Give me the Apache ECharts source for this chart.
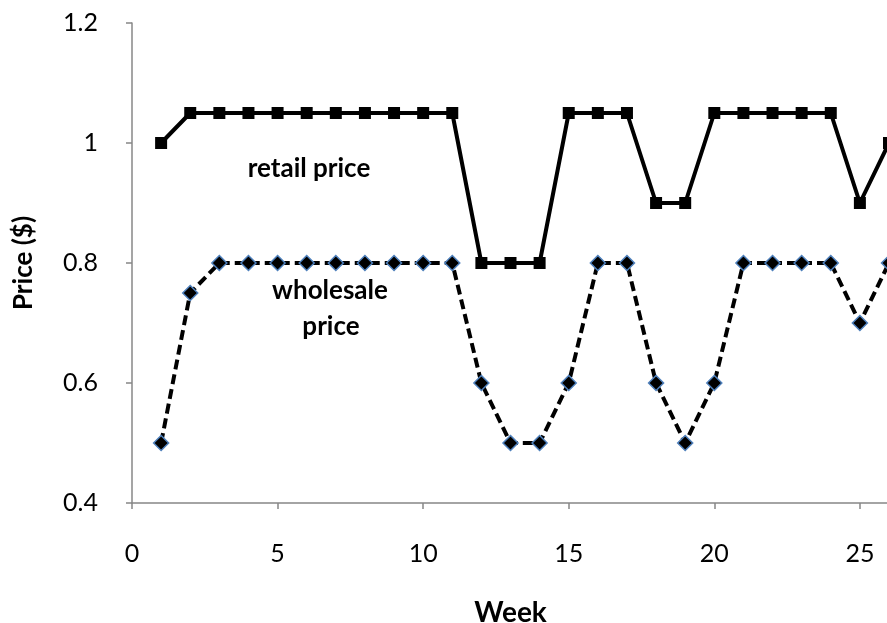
<!DOCTYPE html>
<html>
<head>
<meta charset="utf-8">
<script src="https://cdn.jsdelivr.net/npm/echarts@6/dist/echarts.min.js"></script>
<style>
  html, body { margin: 0; padding: 0; background: #fff; }
  #chart { width: 887px; height: 623px; }
</style>
</head>
<body>
<div id="chart"></div>
<script>
// Weekly prices
const weeks = [1, 2, 3, 4, 5, 6, 7, 8, 9, 10, 11, 12, 13, 14, 15, 16, 17, 18, 19, 20, 21, 22, 23, 24, 25, 26];
const retailPrice = [1.0, 1.05, 1.05, 1.05, 1.05, 1.05, 1.05, 1.05, 1.05, 1.05, 1.05, 0.8, 0.8, 0.8, 1.05, 1.05, 1.05, 0.9, 0.9, 1.05, 1.05, 1.05, 1.05, 1.05, 0.9, 1.0];
const wholesalePrice = [0.5, 0.75, 0.8, 0.8, 0.8, 0.8, 0.8, 0.8, 0.8, 0.8, 0.8, 0.6, 0.5, 0.5, 0.6, 0.8, 0.8, 0.6, 0.5, 0.6, 0.8, 0.8, 0.8, 0.8, 0.7, 0.8];

const FONT = 'Lato, "Open Sans", sans-serif';
const AXIS_GRAY = '#878787';

const chart = echarts.init(document.getElementById('chart'), null, { renderer: 'canvas' });

const pairs = (ys) => weeks.map((w, i) => [w, ys[i]]);

chart.setOption({
  animation: false,
  backgroundColor: '#ffffff',
  grid: { left: 132, right: -2, top: 23, bottom: 120, containLabel: false, outerBoundsMode: 'none' },
  xAxis: {
    type: 'value',
    min: 0,
    max: 26,
    interval: 5,
    name: 'Week',
    nameLocation: 'middle',
    nameGap: 96,
    nameTextStyle: { fontFamily: FONT, fontWeight: 'bold', fontSize: 28, color: '#000' },
    axisLine: { show: true, lineStyle: { color: AXIS_GRAY, width: 1.5 } },
    axisTick: { show: true, inside: false, length: 6, lineStyle: { color: AXIS_GRAY, width: 1.5 } },
    axisLabel: { fontFamily: FONT, fontSize: 25, color: '#000', margin: 38, showMaxLabel: false },
    splitLine: { show: false }
  },
  yAxis: {
    type: 'value',
    min: 0.4,
    max: 1.2,
    interval: 0.2,
    name: 'Price ($)',
    nameLocation: 'middle',
    nameRotate: 90,
    nameGap: 95,
    nameTextStyle: { fontFamily: FONT, fontWeight: 'bold', fontSize: 26, color: '#000' },
    axisLine: { show: true, lineStyle: { color: AXIS_GRAY, width: 1.5 } },
    axisTick: { show: true, inside: false, length: 6, lineStyle: { color: AXIS_GRAY, width: 1.5 } },
    axisLabel: {
      fontFamily: FONT, fontSize: 25, color: '#000', margin: 34,
      formatter: (v) => String(Math.round(v * 10) / 10)
    },
    splitLine: { show: false }
  },
  series: [
    {
      name: 'retail price',
      type: 'line',
      data: pairs(retailPrice),
      symbol: 'rect',
      symbolSize: 12,
      showAllSymbol: true,
      lineStyle: { color: '#000', width: 4, type: 'solid' },
      itemStyle: { color: '#000', borderWidth: 0 },
      z: 3
    },
    {
      name: 'wholesale price',
      type: 'line',
      data: pairs(wholesalePrice),
      symbol: 'diamond',
      symbolSize: 15,
      showAllSymbol: true,
      lineStyle: { color: '#000', width: 4, type: [10, 5], cap: 'butt' },
      itemStyle: { color: '#000', borderColor: '#4f81bd', borderWidth: 1.5 },
      z: 2
    }
  ],
  graphic: [
    {
      type: 'text',
      x: 309, y: 169,
      style: { text: 'retail price', fontFamily: FONT, fontWeight: 'bold', fontSize: 26, fill: '#000', align: 'center', verticalAlign: 'middle' }
    },
    {
      type: 'text',
      x: 330, y: 291,
      style: { text: 'wholesale', fontFamily: FONT, fontWeight: 'bold', fontSize: 26, fill: '#000', align: 'center', verticalAlign: 'middle' }
    },
    {
      type: 'text',
      x: 331, y: 327,
      style: { text: 'price', fontFamily: FONT, fontWeight: 'bold', fontSize: 26, fill: '#000', align: 'center', verticalAlign: 'middle' }
    }
  ]
});
</script>
</body>
</html>
